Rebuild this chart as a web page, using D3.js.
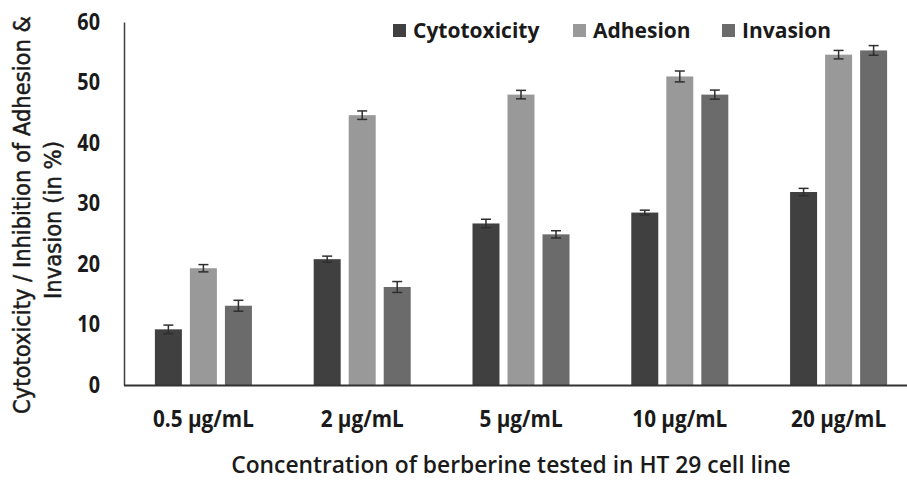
<!DOCTYPE html>
<html>
<head>
<meta charset="utf-8">
<script src="https://cdn.jsdelivr.net/npm/d3@7"></script>
<style>
  body { margin: 0; background: #fff; }
  svg { display: block; }
</style>
</head>
<body>
<div id="chart"></div>
<script>
// Data
const concentrations = ["0.5 µg/mL", "2 µg/mL", "5 µg/mL", "10 µg/mL", "20 µg/mL"];
const seriesNames = ["Cytotoxicity", "Adhesion", "Invasion"];
const cytotoxicity = [9.2, 20.8, 26.7, 28.5, 31.9];
const adhesion = [19.3, 44.6, 48.0, 51.0, 54.6];
const invasion = [13.1, 16.2, 24.9, 48.0, 55.3];
const cytotoxicityErr = [0.7, 0.5, 0.7, 0.4, 0.6];
const adhesionErr = [0.6, 0.7, 0.7, 0.9, 0.7];
const invasionErr = [0.9, 0.9, 0.6, 0.75, 0.8];
const yTicks = [0, 10, 20, 30, 40, 50, 60];
const yTitleLines = ["Cytotoxicity / Inhibition of Adhesion &", "Invasion (in %)"];

const width = 907;
const height = 483;
const colors = { Cytotoxicity: "#404040", Adhesion: "#999999", Invasion: "#6b6b6b" };

const values = { Cytotoxicity: cytotoxicity, Adhesion: adhesion, Invasion: invasion };
const errors = { Cytotoxicity: cytotoxicityErr, Adhesion: adhesionErr, Invasion: invasionErr };

const rows = [];
concentrations.forEach((c, i) => {
  seriesNames.forEach(s => {
    rows.push({ cat: c, series: s, value: values[s][i], err: errors[s][i] });
  });
});

const svg = d3.select("#chart").append("svg")
  .attr("width", width)
  .attr("height", height);

// Scales
const x0 = d3.scaleBand()
  .domain(concentrations)
  .range([124, 918])
  .paddingInner(0.389)
  .paddingOuter(0.1945);

const x1 = d3.scaleBand()
  .domain(seriesNames)
  .range([0, x0.bandwidth()])
  .paddingInner(0.229);

const y = d3.scaleLinear()
  .domain([0, 60])
  .range([385, 22]);

// squeeze text horizontally to mimic the narrow face of the original
function condense(sel, factor) {
  sel.each(function() {
    const w = this.getComputedTextLength();
    d3.select(this).attr("textLength", w * factor).attr("lengthAdjust", "spacingAndGlyphs");
  });
}

// Bars
svg.append("g")
  .selectAll("rect")
  .data(rows)
  .join("rect")
  .attr("x", d => x0(d.cat) + x1(d.series))
  .attr("y", d => y(d.value))
  .attr("width", x1.bandwidth())
  .attr("height", d => y(0) - y(d.value))
  .attr("fill", d => colors[d.series]);

// Error bars
const eb = svg.append("g")
  .attr("stroke", "#2e2e2e")
  .attr("stroke-width", 1.5)
  .selectAll("g")
  .data(rows)
  .join("g")
  .attr("transform", d => `translate(${x0(d.cat) + x1(d.series) + x1.bandwidth() / 2},0)`);

eb.append("line")
  .attr("y1", d => y(d.value + d.err))
  .attr("y2", d => y(d.value - d.err));
eb.append("line")
  .attr("x1", -5).attr("x2", 5)
  .attr("y1", d => y(d.value + d.err))
  .attr("y2", d => y(d.value + d.err));
eb.append("line")
  .attr("x1", -5).attr("x2", 5)
  .attr("y1", d => y(d.value - d.err))
  .attr("y2", d => y(d.value - d.err));

// Y axis
const yAxis = svg.append("g")
  .attr("transform", "translate(124,0)")
  .call(d3.axisLeft(y).tickValues(yTicks).tickSize(0).tickPadding(24));
yAxis.select(".domain").attr("stroke", "#404040").attr("stroke-width", 1.5);
yAxis.selectAll("text")
  .attr("font-family", "Open Sans, sans-serif")
  .attr("font-weight", "bold")
  .attr("font-size", 23)
  .attr("fill", "#1a1a1a")
  .call(condense, 0.86);

// X axis
const xAxis = svg.append("g")
  .attr("transform", `translate(0,${y(0)})`)
  .call(d3.axisBottom(x0).tickSize(0).tickPadding(26).tickSizeOuter(0));
xAxis.select(".domain").attr("d", `M124,0.5H${width}`).attr("stroke", "#333").attr("stroke-width", 1.8);
xAxis.selectAll("text")
  .attr("font-family", "Open Sans, sans-serif")
  .attr("font-weight", "bold")
  .attr("font-size", 23)
  .attr("fill", "#1a1a1a")
  .call(condense, 0.9);

// X title
svg.append("text")
  .attr("x", 511)
  .attr("y", 473)
  .attr("text-anchor", "middle")
  .attr("font-family", "Open Sans, sans-serif")
  .attr("font-weight", "600")
  .attr("font-size", 24)
  .attr("fill", "#1a1a1a")
  .text("Concentration of berberine tested in HT 29 cell line")
  .call(condense, 0.95);

// Y title: two rotated lines, squeezed along their length with a transform
const yTitleLen = [398, 158];
const yTitleX = [30, 61];
const yTitleMid = [215, 220];
yTitleLines.forEach((line, i) => {
  const g = svg.append("g");
  const t = g.append("text")
    .attr("text-anchor", "middle")
    .attr("font-family", "DejaVu Sans, sans-serif")
    .attr("font-size", 23)
    .attr("fill", "#1a1a1a")
    .attr("stroke", "#1a1a1a")
    .attr("stroke-width", 0.5)
    .text(line);
  const sx = yTitleLen[i] / t.node().getComputedTextLength();
  g.attr("transform", `translate(${yTitleX[i]},${yTitleMid[i]}) rotate(-90) scale(${sx},1)`);
});

// Legend
const legendX = [393, 573, 722];
const legend = svg.append("g")
  .selectAll("g")
  .data(seriesNames)
  .join("g")
  .attr("transform", (d, i) => `translate(${legendX[i]},24)`);
legend.append("rect")
  .attr("width", 13).attr("height", 13)
  .attr("fill", d => colors[d]);
legend.append("text")
  .attr("x", 20).attr("y", 13.5)
  .attr("font-family", "Open Sans, sans-serif")
  .attr("font-weight", "bold")
  .attr("font-size", 21)
  .attr("fill", "#1a1a1a")
  .text(d => d)
  .call(condense, 1.0);
</script>
</body>
</html>
